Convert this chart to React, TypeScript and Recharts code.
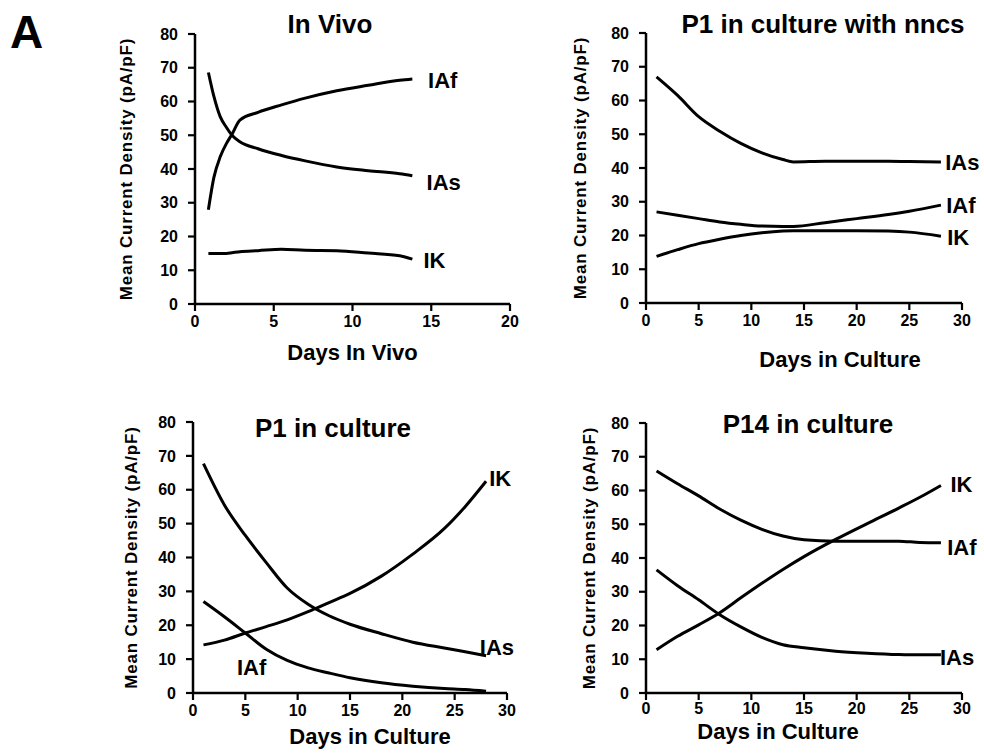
import { LineChart, Line, XAxis, YAxis, ReferenceDot } from 'recharts'

const FONT = '"Liberation Sans", Arial, Helvetica, sans-serif'

// In Vivo
const vivoDays = [0.85, 1.2, 1.6, 2, 2.35, 2.85, 4, 5.5, 7, 9, 11, 13, 13.8]
const vivoIAs = [68.6, 61.5, 55.5, 52.3, 50, 48.1, 46, 44, 42.4, 40.6, 39.5, 38.6, 38]
const vivoIAf = [27.9, 37.5, 43.6, 47.6, 50.3, 54.5, 56.8, 59, 61, 63.2, 64.8, 66.3, 66.7]
const vivoIK = [15, 15, 15, 15, 15.2, 15.5, 15.8, 16.2, 15.9, 15.8, 15.1, 14.3, 13.3]

// P1 in culture with nncs
const nncsDays = [1, 3, 5, 7, 9, 11, 13, 14, 17, 20, 23, 25, 28]
const nncsIAs = [67, 61.5, 55.2, 50.9, 47.3, 44.5, 42.5, 41.8, 42, 42, 42, 41.9, 41.8]
const nncsIAf = [27, 26, 25, 24, 23.3, 22.8, 22.7, 22.7, 23.8, 25, 26.2, 27.2, 29]
const nncsIK = [13.8, 15.8, 17.6, 18.9, 20, 20.8, 21.3, 21.4, 21.4, 21.4, 21.3, 21, 19.8]

// P1 in culture
const p1Days = [1, 3, 5, 7, 9, 11, 13, 15, 18, 21, 24, 26, 28]
const p1IAs = [67.7, 55.5, 46.5, 38.5, 31, 26.2, 22.8, 20.3, 17.5, 15, 13.3, 12.2, 11]
const p1IK = [14.2, 15.6, 17.7, 19.6, 21.6, 24, 26.7, 29.4, 34.5, 41, 48.5, 55, 62.5]
const p1IAf = [27, 22.5, 17.7, 12.9, 9.6, 7.4, 5.9, 4.5, 3, 2, 1.3, 1, 0.5]

// P14 in culture
const p14Days = [1, 3, 5, 7, 9, 11, 13, 15, 18, 21, 24, 26, 28]
const p14IAf = [65.8, 62, 58.4, 54.5, 51.2, 48.5, 46.5, 45.4, 45, 45, 45, 44.6, 44.5]
const p14IAs = [36.5, 31.8, 27.6, 23.2, 19.6, 16.5, 14.3, 13.4, 12.4, 11.8, 11.4, 11.3, 11.3]
const p14IK = [12.8, 16.8, 20.2, 23.8, 28.2, 32.5, 36.6, 40.4, 45.5, 50.2, 54.8, 58, 61.5]

const yTicks = [0, 10, 20, 30, 40, 50, 60, 70, 80]
const vivoTicks = [0, 5, 10, 15, 20]
const cultureTicks = [0, 5, 10, 15, 20, 25, 30]

const rows = (days: number[], ias: number[], iaf: number[], ik: number[]) =>
  days.map((day, i) => ({ day, IAs: ias[i], IAf: iaf[i], IK: ik[i] }))

type Tag = { name: string; x: number; y: number }

interface PanelProps {
  title: string
  titleX: number
  titleTop: number
  left: number
  top: number
  height: number
  mTop: number
  mRight: number
  yWidth: number
  xHeight: number
  xMax: number
  xTicks: number[]
  xTickMargin: number
  xLabel: string
  xLabelOffset: number
  xLabelDx: number
  yLabelOffset: number
  data: { day: number; IAs: number; IAf: number; IK: number }[]
  tags: Tag[]
}

const tickStyle = { fill: '#000', fontSize: 16, fontWeight: 700, fontFamily: FONT }
const axisLine = { stroke: '#000', strokeWidth: 2.5 }
const tickLine = { stroke: '#000', strokeWidth: 2.2 }

function Panel(p: PanelProps) {
  return (
    <>
      <div style={{
        position: 'absolute', left: p.titleX, top: p.titleTop, transform: 'translateX(-50%)',
        fontFamily: FONT, fontWeight: 700, fontSize: 26, lineHeight: '26px', whiteSpace: 'nowrap', color: '#000',
      }}>{p.title}</div>
      <div style={{ position: 'absolute', left: p.left, top: p.top }}>
        <LineChart width={430} height={p.height} data={p.data}
          margin={{ top: p.mTop, right: p.mRight, left: 0, bottom: 0 }}>
          <XAxis type="number" dataKey="day" domain={[0, p.xMax]} ticks={p.xTicks} height={p.xHeight}
            axisLine={axisLine} tickLine={tickLine} tickSize={7} tickMargin={p.xTickMargin} tick={tickStyle}
            label={{ value: p.xLabel, position: 'insideBottom', offset: p.xLabelOffset, dx: p.xLabelDx,
              fill: '#000', fontSize: 22, fontWeight: 700, fontFamily: FONT }} />
          <YAxis type="number" domain={[0, 80]} ticks={yTicks} width={p.yWidth}
            axisLine={axisLine} tickLine={tickLine} tickSize={7} tickMargin={10} tick={tickStyle}
            label={{ value: 'Mean Current Density (pA/pF)', angle: -90, position: 'insideLeft', offset: p.yLabelOffset,
              fill: '#000', fontSize: 17, fontWeight: 700, fontFamily: FONT,
              style: { textAnchor: 'middle', letterSpacing: 0.8 } }} />
          <Line type="monotone" dataKey="IAs" stroke="#000" strokeWidth={3} dot={false} isAnimationActive={false} />
          <Line type="monotone" dataKey="IAf" stroke="#000" strokeWidth={3} dot={false} isAnimationActive={false} />
          <Line type="monotone" dataKey="IK" stroke="#000" strokeWidth={3} dot={false} isAnimationActive={false} />
          {p.tags.map(t => (
            <ReferenceDot key={t.name} x={t.x} y={t.y} r={0} fill="none" stroke="none"
              label={{ value: t.name, position: 'right', offset: 0, fill: '#000', fontSize: 22, fontWeight: 700, fontFamily: FONT }} />
          ))}
        </LineChart>
      </div>
    </>
  )
}

export default function App() {
  return (
    <div style={{ position: 'absolute', left: 0, top: 0, width: 984, height: 756, background: '#fff', overflow: 'hidden' }}>
      <div style={{
        position: 'absolute', left: 10, top: 9, fontFamily: FONT, fontWeight: 700,
        fontSize: 46, lineHeight: '46px', color: '#000',
      }}>A</div>
      <Panel title="In Vivo" titleX={330} titleTop={11} left={100} top={0} height={380}
        mTop={34} mRight={20} yWidth={95} xHeight={76} xMax={20} xTicks={vivoTicks} xTickMargin={5}
        xLabel="Days In Vivo" xLabelOffset={20} xLabelDx={0} yLabelOffset={26}
        data={rows(vivoDays, vivoIAs, vivoIAf, vivoIK)}
        tags={[{ name: 'IAf', x: 14.8, y: 66.4 }, { name: 'IAs', x: 14.7, y: 36.1 }, { name: 'IK', x: 14.5, y: 13 }]} />
      <Panel title="P1 in culture with nncs" titleX={823} titleTop={11} left={550} top={0} height={380}
        mTop={33} mRight={18} yWidth={96} xHeight={77} xMax={30} xTicks={cultureTicks} xTickMargin={5}
        xLabel="Days in Culture" xLabelOffset={13} xLabelDx={36} yLabelOffset={30}
        data={rows(nncsDays, nncsIAs, nncsIAf, nncsIK)}
        tags={[{ name: 'IAs', x: 28.4, y: 41.8 }, { name: 'IAf', x: 28.5, y: 29 }, { name: 'IK', x: 28.6, y: 19.6 }]} />
      <Panel title="P1 in culture" titleX={333} titleTop={415} left={100} top={390} height={366}
        mTop={32} mRight={23} yWidth={93} xHeight={63} xMax={30} xTicks={cultureTicks} xTickMargin={5}
        xLabel="Days in Culture" xLabelOffset={12} xLabelDx={20} yLabelOffset={31}
        data={rows(p1Days, p1IAs, p1IAf, p1IK)}
        tags={[{ name: 'IK', x: 28.3, y: 63.4 }, { name: 'IAs', x: 27.4, y: 13.6 }, { name: 'IAf', x: 4.2, y: 7.7 }]} />
      <Panel title="P14 in culture" titleX={808} titleTop={411} left={550} top={390} height={366}
        mTop={33} mRight={18} yWidth={96} xHeight={63} xMax={30} xTicks={cultureTicks} xTickMargin={3}
        xLabel="Days in Culture" xLabelOffset={17} xLabelDx={-26} yLabelOffset={39}
        data={rows(p14Days, p14IAs, p14IAf, p14IK)}
        tags={[{ name: 'IK', x: 28.9, y: 61.9 }, { name: 'IAf', x: 28.6, y: 43.3 }, { name: 'IAs', x: 27.9, y: 10.7 }]} />
    </div>
  )
}
